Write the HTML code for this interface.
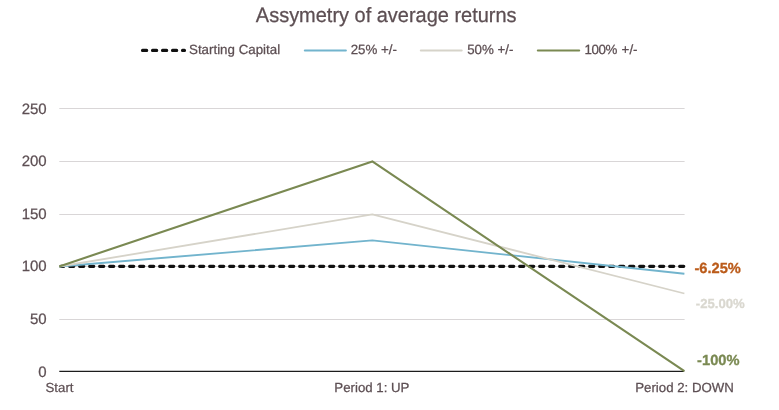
<!DOCTYPE html>
<html><head><meta charset="utf-8"><title>Assymetry of average returns</title>
<style>
html,body{margin:0;padding:0;background:#fff;}
svg{display:block;text-rendering:geometricPrecision;font-family:"Liberation Sans",sans-serif;}
</style></head><body>
<svg width="779" height="410" viewBox="0 0 779 410">
<rect width="779" height="410" fill="#ffffff"/>
<g fill="#5d4f53" stroke="#5d4f53" stroke-width="0.25">
<text transform="translate(386.2,22.05) scale(0.998,1.035)" text-anchor="middle" font-size="20">Assymetry of average returns</text>
<g font-size="13.33">
<text x="189.0" y="54.2">Starting Capital</text>
<text x="350.7" y="54.2">25% +/-</text>
<text x="467.2" y="54.2">50% +/-</text>
<text x="584.4" y="54.2"><tspan letter-spacing="-0.4">100% </tspan><tspan x="621.6">+/-</tspan></text>
</g>
<text x="46.7" y="376.50" text-anchor="end" font-size="15.0">0</text>
<text x="46.7" y="323.90" text-anchor="end" font-size="15.0">50</text>
<text x="46.7" y="271.30" text-anchor="end" font-size="15.0">100</text>
<text x="46.7" y="218.70" text-anchor="end" font-size="15.0">150</text>
<text x="46.7" y="166.10" text-anchor="end" font-size="15.0">200</text>
<text x="46.7" y="113.50" text-anchor="end" font-size="15.0">250</text>

<g font-size="13.25" text-anchor="middle">
<text x="59.5" y="391.8">Start</text>
<text x="371.9" y="391.8">Period 1: UP</text>
<text x="684.6" y="391.8">Period 2: DOWN</text>
</g>
</g>
<line x1="142.5" y1="50.4" x2="184.5" y2="50.4" stroke="#111" stroke-width="3.1" stroke-dasharray="4.2 5.8" stroke-linecap="round"/>
<g stroke-width="2" stroke-linecap="round">
<line x1="304.8" y1="50.6" x2="345.9" y2="50.6" stroke="#72b4cd"/>
<line x1="420.8" y1="50.6" x2="461.7" y2="50.6" stroke="#d6d3c9"/>
<line x1="537.8" y1="50.6" x2="579.2" y2="50.6" stroke="#7a8952"/>
</g>
<line x1="59.3" y1="108.5" x2="684.6" y2="108.5" stroke="#d9d6d7" stroke-width="1"/>
<line x1="59.3" y1="161.5" x2="684.6" y2="161.5" stroke="#d9d6d7" stroke-width="1"/>
<line x1="59.3" y1="214.5" x2="684.6" y2="214.5" stroke="#d9d6d7" stroke-width="1"/>
<line x1="59.3" y1="266.5" x2="684.6" y2="266.5" stroke="#d9d6d7" stroke-width="1"/>
<line x1="59.3" y1="319.5" x2="684.6" y2="319.5" stroke="#d9d6d7" stroke-width="1"/>

<line x1="59.3" y1="371.3" x2="684.2" y2="371.3" stroke="#1c1c1c" stroke-width="1.2"/>
<line x1="60.8" y1="266.35" x2="684.2" y2="266.35" stroke="#111" stroke-width="3.1" stroke-dasharray="4.2 5.8" stroke-dashoffset="1.2" stroke-linecap="round"/>
<polyline points="59.2,266.5 372.3,240.4 684.4,273.7" fill="none" stroke="#72b4cd" stroke-width="1.9" stroke-linejoin="round"/>

<polyline points="59.2,266.5 372.3,214.4 684.4,293.5" fill="none" stroke="#d6d3c9" stroke-width="1.8" stroke-linejoin="round"/>

<polyline points="59.2,266.4 372.3,161.4 684.4,371.1" fill="none" stroke="#7a8952" stroke-width="2.1" stroke-linejoin="round"/>

<g font-weight="bold" stroke-width="0.3">
<text x="694.4" y="272.6" font-size="14.67" fill="#bb5b1a" stroke="#bb5b1a">-6.25%</text>
<text x="695.8" y="307.6" font-size="13.15" fill="#dad8d0" stroke="#dad8d0">-25.00%</text>
<text x="697.1" y="364.5" font-size="14.67" fill="#7a8952" stroke="#7a8952">-100%</text>
</g>
</svg>
</body></html>
